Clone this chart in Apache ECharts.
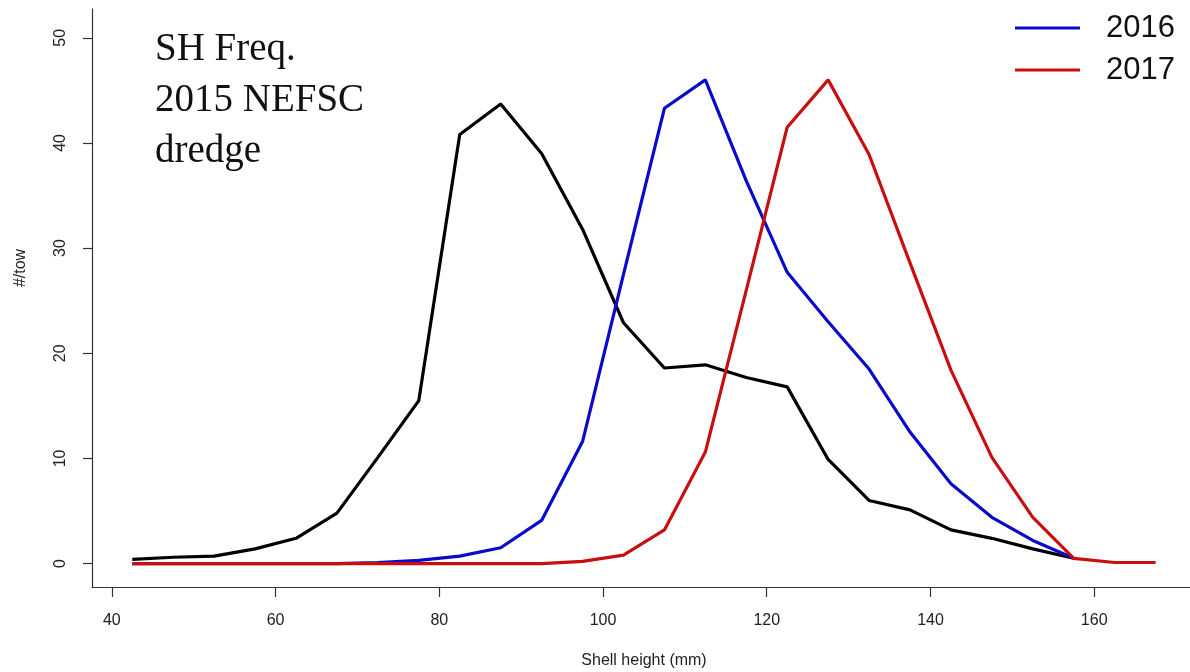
<!DOCTYPE html>
<html>
<head>
<meta charset="utf-8">
<script src="https://cdn.jsdelivr.net/npm/echarts@6/dist/echarts.min.js"></script>
<style>
html,body{margin:0;padding:0;background:#fff;}
#chart{width:1190px;height:672px;}
</style>
</head>
<body>
<div id="chart"></div>
<script>
// Shell height bin midpoints (mm)
var shellHeights = [42.5,47.5,52.5,57.5,62.5,67.5,72.5,77.5,82.5,87.5,92.5,97.5,102.5,107.5,112.5,117.5,122.5,127.5,132.5,137.5,142.5,147.5,152.5,157.5,162.5,167.5];
// #/tow, 2015 NEFSC dredge (black)
var tow2015 = [0.4,0.6,0.7,1.4,2.4,4.8,10.1,15.5,40.8,43.7,39.0,31.8,22.9,18.6,18.9,17.7,16.8,9.9,6.0,5.1,3.2,2.4,1.4,0.5];
// projected 2016 (blue)
var tow2016 = [0,0,0,0,0,0,0.1,0.3,0.7,1.5,4.1,11.6,27.5,43.3,46.0,36.4,27.7,23.0,18.5,12.5,7.6,4.4,2.2,0.5];
// projected 2017 (red)
var tow2017 = [0,0,0,0,0,0,0,0,0,0,0,0.2,0.8,3.2,10.6,26.0,41.5,46.0,38.9,28.6,18.4,10.1,4.4,0.5,0.1,0.1];
var xTicks = [40,60,80,100,120,140,160];
var yTicks = [0,10,20,30,40,50];
var titleLines = ['SH Freq.','2015 NEFSC','dredge'];

function pairs(vals){
  var out = [];
  for (var i = 0; i < vals.length; i++) out.push([shellHeights[i], vals[i]]);
  return out;
}

var chart = echarts.init(document.getElementById('chart'), null, {renderer:'canvas'});
var axisFont = 'Liberation Sans, Arial, sans-serif';
chart.setOption({
  animation: false,
  backgroundColor: '#ffffff',
  grid: {left: 92, right: 0, top: 9, bottom: 85, containLabel: false},
  xAxis: {
    type: 'value', min: 37.58, max: 171.7,
    axisLine: {show: true, onZero: false, lineStyle: {color: '#333', width: 1.2}},
    axisTick: {show: true, inside: false, length: 10, customValues: xTicks, lineStyle: {color: '#333', width: 1.2}},
    axisLabel: {customValues: xTicks, fontSize: 16, color: '#222', fontFamily: axisFont, margin: 26},
    splitLine: {show: false}
  },
  yAxis: {
    type: 'value', min: -2.23, max: 52.74,
    axisLine: {show: true, onZero: false, lineStyle: {color: '#333', width: 1.2}},
    axisTick: {show: true, inside: false, length: 9, customValues: yTicks, lineStyle: {color: '#333', width: 1.2}},
    axisLabel: {customValues: yTicks, fontSize: 16, color: '#222', fontFamily: axisFont, rotate: 90, margin: 23},
    splitLine: {show: false}
  },
  legend: {
    data: ['2016','2017'],
    orient: 'vertical',
    left: 1010, top: 5,
    icon: 'rect',
    itemWidth: 65, itemHeight: 3,
    itemGap: 6,
    textStyle: {fontSize: 31, color: '#111', fontFamily: axisFont, lineHeight: 36, padding: [0,0,0,21]}
  },
  graphic: [
    {type: 'text', left: 155, top: 24, style: {text: titleLines.join('\n'), font: '39px "Liberation Serif", serif', lineHeight: 51, fill: '#111'}},
    {type: 'text', x: 21, y: 268, rotation: Math.PI/2, style: {text: '#/tow', font: '16px "Liberation Sans", Arial, sans-serif', fill: '#222', align: 'center', verticalAlign: 'middle'}},
    {type: 'text', x: 644, y: 661, style: {text: 'Shell height (mm)', font: '16px "Liberation Sans", Arial, sans-serif', fill: '#222', align: 'center', verticalAlign: 'middle'}}
  ],
  series: [
    {name: '2015', type: 'line', data: pairs(tow2015), symbol: 'none', lineStyle: {color: '#000000', width: 3.2}, itemStyle: {color: '#000000'}},
    {name: '2016', type: 'line', data: pairs(tow2016), symbol: 'none', lineStyle: {color: '#0a0ac8', width: 3.2}, itemStyle: {color: '#0a0ac8'}},
    {name: '2017', type: 'line', data: pairs(tow2017), symbol: 'none', lineStyle: {color: '#c80f0f', width: 3.2}, itemStyle: {color: '#c80f0f'}}
  ]
});
</script>
</body>
</html>
